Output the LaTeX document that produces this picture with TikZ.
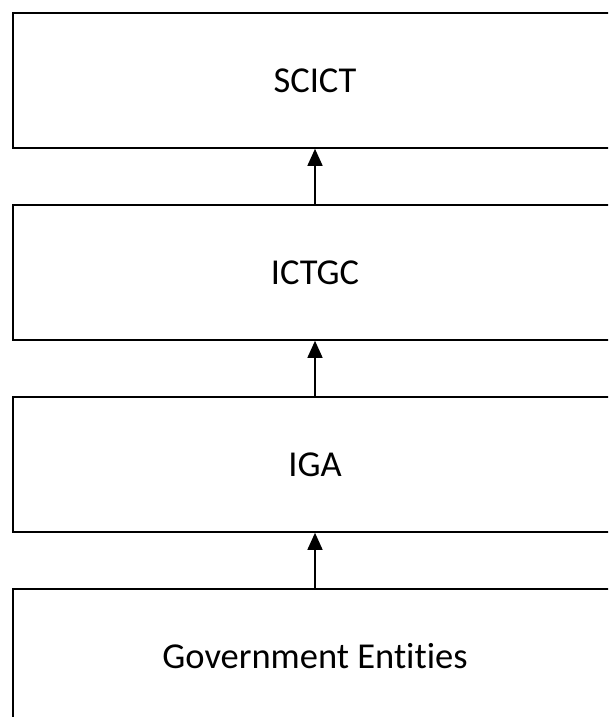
\documentclass[tikz,border=0pt]{standalone}
\usepackage{fontspec}
\setmainfont[Ligatures=NoCommon]{Carlito}
\usetikzlibrary{arrows.meta,positioning}

\begin{document}
\begin{tikzpicture}[
  x=1pt, y=-1pt,
  font=\fontsize{36.5}{44}\selectfont,
  node distance=55.4pt,
  level/.style={draw, line width=1.6pt, minimum width=604pt, minimum height=135pt, inner sep=0pt},
  arrow/.style={-{Triangle[width=15pt,length=17pt]}, line width=1.5pt}
]
\useasboundingbox (0,0) rectangle (608,717);
\clip (0,0) rectangle (608,717);
\node[level] (scict) at (315,80.5) {SCICT};
\node[level, below=of scict] (ictgc) {ICTGC};
\node[level, below=of ictgc] (iga) {IGA};
\node[level, below=of iga] (entities) {Government Entities};
\draw[arrow] (ictgc.north) -- (scict.south);
\draw[arrow] (iga.north) -- (ictgc.south);
\draw[arrow] (entities.north) -- (iga.south);
\end{tikzpicture}
\end{document}
